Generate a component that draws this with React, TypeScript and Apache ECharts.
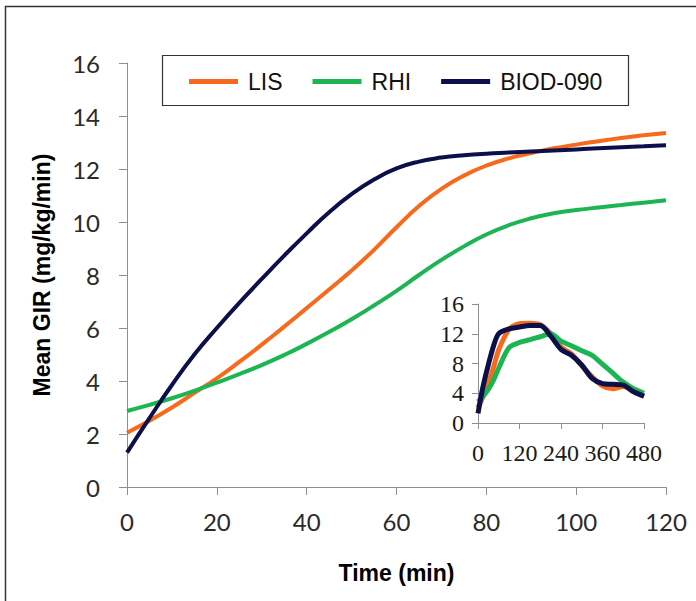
import React, { useEffect, useRef } from "react";
import * as echarts from "echarts";

const seriesNames = ["LIS", "RHI", "BIOD-090"];
const seriesColors = ["#F7691B", "#1DB553", "#0B0F4A"];

const timeMin = [0, 5, 10, 15, 20, 25, 30, 35, 40, 45, 50, 55, 60, 65, 70, 75, 80, 85, 90, 95, 100, 105, 110, 115, 120];
const lis = [2.05, 2.5, 3.0, 3.55, 4.1, 4.72, 5.37, 6.05, 6.75, 7.45, 8.17, 8.95, 9.8, 10.6, 11.25, 11.75, 12.13, 12.4, 12.6, 12.78, 12.92, 13.05, 13.17, 13.27, 13.36];
const rhi = [2.87, 3.1, 3.35, 3.63, 3.94, 4.26, 4.6, 4.98, 5.4, 5.85, 6.33, 6.85, 7.4, 8.0, 8.57, 9.08, 9.53, 9.88, 10.14, 10.33, 10.45, 10.55, 10.64, 10.73, 10.82];
const biod = [1.3, 2.6, 3.85, 5.0, 6.0, 6.95, 7.85, 8.73, 9.57, 10.37, 11.05, 11.6, 12.02, 12.28, 12.43, 12.52, 12.58, 12.62, 12.66, 12.7, 12.74, 12.78, 12.82, 12.86, 12.9];

const insetTime = [0, 15, 30, 45, 60, 90, 120, 150, 180, 210, 240, 270, 300, 330, 360, 390, 420, 450, 480];
const insetLis = [2.05, 3.6, 5.4, 7.5, 9.85, 12.6, 13.35, 13.4, 13.2, 12.0, 10.2, 9.3, 7.7, 6.2, 5.0, 4.6, 4.9, 4.3, 3.6];
const insetRhi = [2.87, 3.62, 4.55, 5.8, 7.4, 10.15, 10.82, 11.2, 11.6, 12.0, 11.0, 10.4, 9.7, 9.1, 7.9, 6.7, 5.5, 4.6, 4.0];
const insetBiod = [1.3, 5.0, 7.85, 10.37, 12.02, 12.66, 12.9, 13.1, 13.1, 11.7, 9.9, 9.1, 7.8, 6.0, 5.3, 5.2, 5.1, 4.2, 3.6];

const pair = (xs: number[], ys: number[]) => xs.map((x, i) => [x, ys[i]]);

export default function App() {
  const ref = useRef<HTMLDivElement>(null);
  useEffect(() => {
    const chart = echarts.init(ref.current!, null, { renderer: "svg" });
    const axisLine = { show: true, lineStyle: { color: "#8f8f8f", width: 1 } };
    const mainLabel = { fontFamily: "Lato", fontSize: 24, color: "#2a2a2a" };
    const insetLabel = { fontFamily: "Liberation Serif", fontSize: 24, color: "#1a1a1a" };
    const mainData = [lis, rhi, biod];
    const insetData = [insetLis, insetRhi, insetBiod];
    chart.setOption({
      animation: false,
      backgroundColor: "#ffffff",
      grid: [
        { left: 127, top: 63, width: 539, height: 424 },
        { left: 478, top: 304, width: 166, height: 119 },
      ],
      legend: {
        data: seriesNames,
        left: 189,
        top: 70,
        padding: 0,
        icon: "rect",
        itemWidth: 49,
        itemHeight: 5,
        itemGap: 30,
        textStyle: { fontFamily: "Liberation Sans", fontSize: 23, color: "#111", padding: [0, 0, 0, 5] },
      },
      xAxis: [
        {
          gridIndex: 0, type: "value", min: 0, max: 120, interval: 20,
          axisLine, axisTick: { show: true, length: 8, lineStyle: { color: "#8f8f8f" } },
          splitLine: { show: false },
          axisLabel: { ...mainLabel, margin: 22 },
          name: "Time (min)", nameLocation: "middle", nameGap: 74,
          nameTextStyle: { fontFamily: "Liberation Sans", fontWeight: "bold", fontSize: 23, color: "#000" },
        },
        {
          gridIndex: 1, type: "value", min: 0, max: 480, interval: 120,
          axisLine, axisTick: { show: true, length: 6, lineStyle: { color: "#8f8f8f" } },
          splitLine: { show: false },
          axisLabel: { ...insetLabel, margin: 18 },
        },
      ],
      yAxis: [
        {
          gridIndex: 0, type: "value", min: 0, max: 16, interval: 2,
          axisLine, axisTick: { show: true, length: 8, lineStyle: { color: "#8f8f8f" } },
          splitLine: { show: false },
          axisLabel: { ...mainLabel, margin: 27 },
          name: "Mean GIR (mg/kg/min)", nameLocation: "middle", nameGap: 74,
          nameTextStyle: { fontFamily: "Liberation Sans", fontWeight: "bold", fontSize: 23, color: "#000" },
        },
        {
          gridIndex: 1, type: "value", min: 0, max: 16, interval: 4,
          axisLine, axisTick: { show: true, length: 6, lineStyle: { color: "#8f8f8f" } },
          splitLine: { show: false },
          axisLabel: { ...insetLabel, margin: 14 },
        },
      ],
      series: [
        ...seriesNames.map((name, i) => ({
          name, type: "line", xAxisIndex: 0, yAxisIndex: 0,
          data: pair(timeMin, mainData[i]), smooth: 0.5, showSymbol: false,
          lineStyle: { color: seriesColors[i], width: 4 }, itemStyle: { color: seriesColors[i] },
        })),
        ...seriesNames.map((name, i) => ({
          name, type: "line", xAxisIndex: 1, yAxisIndex: 1,
          data: pair(insetTime, insetData[i]), smooth: 0.3, showSymbol: false,
          lineStyle: { color: seriesColors[i], width: 5 }, itemStyle: { color: seriesColors[i] },
        })),
      ],
      graphic: [
        { type: "polyline", shape: { points: [[5.5, 601], [5.5, 6.5], [696, 6.5]] }, style: { stroke: "#333", lineWidth: 1.5, fill: null } },
        { type: "rect", shape: { x: 162.5, y: 55.5, width: 466, height: 50 }, style: { stroke: "#333", lineWidth: 1.2, fill: null }, z: 0 },
      ],
    });
    return () => chart.dispose();
  }, []);
  return <div ref={ref} style={{ position: "fixed", left: 0, top: 0, width: 696, height: 601, background: "#fff" }} />;
}
